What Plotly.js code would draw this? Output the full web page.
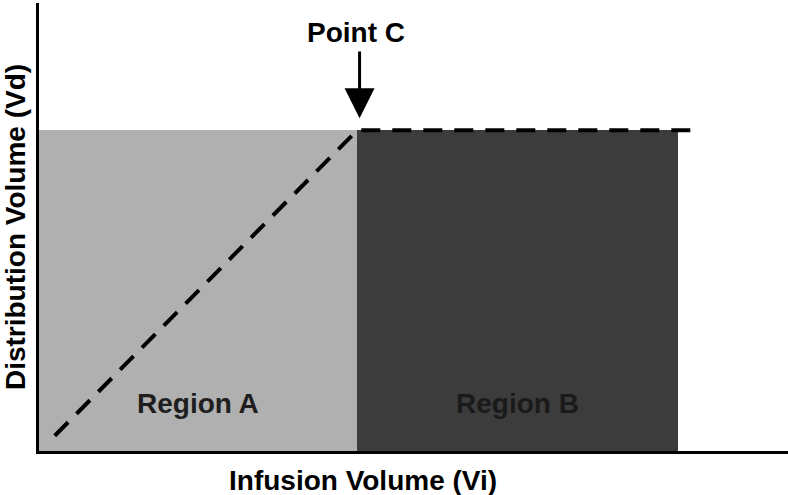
<!DOCTYPE html>
<html>
<head>
<meta charset="utf-8">
<script src="https://cdn.plot.ly/plotly-3.0.1.min.js"></script>
<style>html,body{margin:0;padding:0;background:#fff;}#chart{width:788px;height:495px;}</style>
</head>
<body>
<div id="chart"></div>
<script>
// Region rectangles (x start, x end, height)
const regionNames = ["Region A", "Region B"];
const regionStart = [0, 4.25];
const regionEnd = [4.25, 8.53];
const regionHeight = [7.16, 7.16];
const regionColors = ["#b0b0b0", "#3c3c3c"];
const regionTextColors = ["#1e1e1e", "#1a1a1a"];

// Dashed relationship line
const lineX = [0.21, 4.25, 8.82];
const lineY = [0.34, 7.16, 7.16];

// Point C marker
const pointCX = 4.28;
const pointCTipY = 7.43;
const pointCTailY = 8.95;
const pointCLabelY = 9.35;
const regionLabelY = 1.07;

const xTitle = "Infusion Volume (Vi)";
const yTitle = "Distribution Volume (Vd)";
const FONT = "Liberation Sans, Arial, sans-serif";

const traces = [];
for (let i = 0; i < regionNames.length; i++) {
  traces.push({
    type: "bar",
    x: [(regionStart[i] + regionEnd[i]) / 2],
    y: [regionHeight[i]],
    width: [regionEnd[i] - regionStart[i]],
    marker: {color: regionColors[i], line: {width: 0}},
    hoverinfo: "skip",
    showlegend: false
  });
}
traces.push({
  type: "scatter",
  mode: "lines",
  x: lineX,
  y: lineY,
  line: {color: "#000", width: 4, dash: "19px,12px"},
  hoverinfo: "skip",
  showlegend: false
});

const annotations = regionNames.map((n, i) => ({
  x: (regionStart[i] + regionEnd[i]) / 2,
  y: regionLabelY,
  xref: "x", yref: "y",
  text: "<b>" + n + "</b>",
  showarrow: false,
  font: {family: FONT, size: 28, color: regionTextColors[i]}
}));
annotations.push({
  x: pointCX, y: pointCTipY, xref: "x", yref: "y",
  ax: pointCX, ay: pointCTailY, axref: "x", ayref: "y",
  text: "", showarrow: true, arrowhead: 2, arrowsize: 2, arrowwidth: 3, arrowcolor: "#000"
});
annotations.push({
  x: pointCX - 0.05, y: pointCLabelY, xref: "x", yref: "y",
  text: "<b>Point C</b>", showarrow: false,
  font: {family: FONT, size: 28, color: "#000"}
});
annotations.push({
  x: 0.433, y: -0.065, xref: "paper", yref: "paper",
  xanchor: "center", yanchor: "middle",
  text: "<b>" + xTitle + "</b>", showarrow: false,
  font: {family: FONT, size: 28, color: "#000"}
});

const layout = {
  width: 788, height: 495,
  margin: {l: 39, r: 0, t: 3, b: 44},
  paper_bgcolor: "#fff", plot_bgcolor: "#fff",
  barmode: "overlay", bargap: 0,
  showlegend: false,
  xaxis: {
    range: [0, 10], showgrid: false, zeroline: false, showticklabels: false, ticks: "",
    showline: true, linecolor: "#000", linewidth: 3
  },
  yaxis: {
    range: [0, 10], showgrid: false, zeroline: false, showticklabels: false, ticks: "",
    showline: true, linecolor: "#000", linewidth: 3,
    title: {text: "<b>" + yTitle + "</b>", standoff: 6,
      font: {family: FONT, size: 28, color: "#000"}}
  },
  annotations: annotations
};
Plotly.newPlot("chart", traces, layout, {displayModeBar: false, staticPlot: true});
</script>
</body>
</html>
